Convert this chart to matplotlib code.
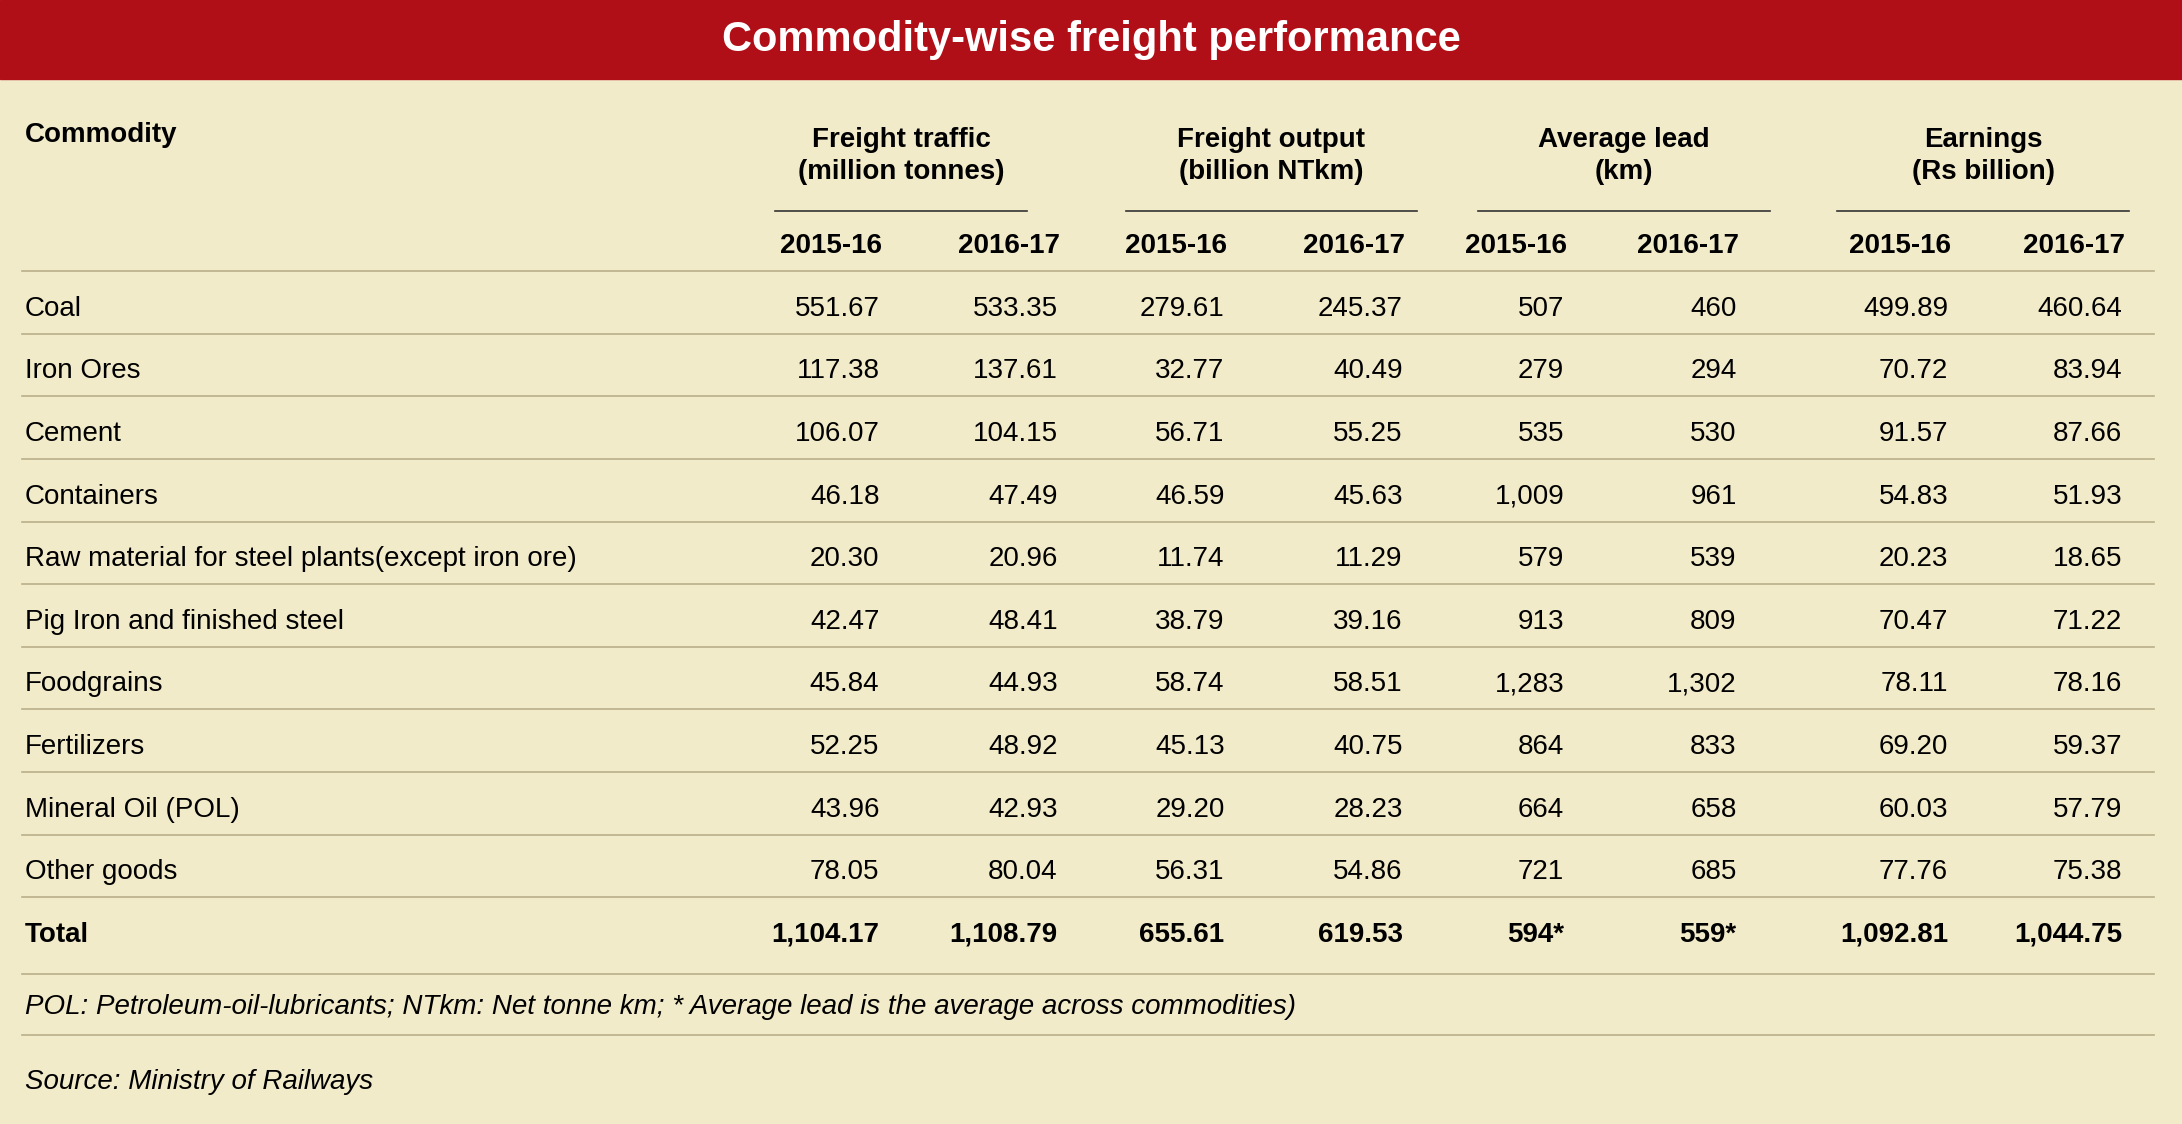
"""freight_table.py — commodity-wise freight performance table."""
import matplotlib.pyplot as plt
from matplotlib.lines import Line2D

plt.rcParams["font.family"] = ["Liberation Sans", "DejaVu Sans"]

commodities = ["Coal", "Iron Ores", "Cement", "Containers",
               "Raw material for steel plants(except iron ore)",
               "Pig Iron and finished steel", "Foodgrains", "Fertilizers",
               "Mineral Oil (POL)", "Other goods"]
traffic_1516 = ["551.67", "117.38", "106.07", "46.18", "20.30", "42.47", "45.84", "52.25", "43.96", "78.05"]
traffic_1617 = ["533.35", "137.61", "104.15", "47.49", "20.96", "48.41", "44.93", "48.92", "42.93", "80.04"]
output_1516 = ["279.61", "32.77", "56.71", "46.59", "11.74", "38.79", "58.74", "45.13", "29.20", "56.31"]
output_1617 = ["245.37", "40.49", "55.25", "45.63", "11.29", "39.16", "58.51", "40.75", "28.23", "54.86"]
lead_1516 = ["507", "279", "535", "1,009", "579", "913", "1,283", "864", "664", "721"]
lead_1617 = ["460", "294", "530", "961", "539", "809", "1,302", "833", "658", "685"]
earn_1516 = ["499.89", "70.72", "91.57", "54.83", "20.23", "70.47", "78.11", "69.20", "60.03", "77.76"]
earn_1617 = ["460.64", "83.94", "87.66", "51.93", "18.65", "71.22", "78.16", "59.37", "57.79", "75.38"]
totals = ["1,104.17", "1,108.79", "655.61", "619.53", "594*", "559*", "1,092.81", "1,044.75"]
groups = ["Freight traffic\n(million tonnes)", "Freight output\n(billion NTkm)",
          "Average lead\n(km)", "Earnings\n(Rs billion)"]
years = ["2015-16", "2016-17"]

W, H = 1568.0, 808.0  # layout grid in reference pixels
RED, BG, LINE = "#B10F18", "#F2EBC9", "#B9B08A"


def fx(x):
    return x / W


def fy(y):
    return 1 - y / H


def hline(fig, y, x0=16, x1=1548, color=LINE, lw=1.2):
    fig.add_artist(Line2D([fx(x0), fx(x1)], [fy(y), fy(y)], color=color, lw=lw))


fig = plt.figure(figsize=(21.82, 11.24), dpi=100, facecolor=BG)
fig.add_artist(plt.Rectangle((0, fy(57)), 1, 57 / H, color=RED, transform=fig.transFigure))
fig.text(0.5, fy(29), "Commodity-wise freight performance", color="white",
         fontsize=30, fontweight="bold", ha="center", va="center")

fs = 20
col_right = [632, 760, 880, 1008, 1124, 1248, 1400, 1525]
group_span = [(557, 738), (809, 1018), (1062, 1272), (1320, 1530)]

fig.text(fx(18), fy(97), "Commodity", fontsize=fs, fontweight="bold", va="center")
for (a, b), g in zip(group_span, groups):
    fig.text(fx((a + b) / 2), fy(112), g, fontsize=fs, fontweight="bold",
             ha="center", va="center", linespacing=1.3)
    hline(fig, 152, a, b, color="#333333", lw=1.2)
for i, r in enumerate(col_right):
    fig.text(fx(r + 2), fy(177), years[i % 2], fontsize=fs, fontweight="bold",
             ha="right", va="center")
hline(fig, 195)

columns = [traffic_1516, traffic_1617, output_1516, output_1617,
           lead_1516, lead_1617, earn_1516, earn_1617]
for k, name in enumerate(commodities):
    y = 222 + 45 * k
    fig.text(fx(18), fy(y), name, fontsize=fs, va="center")
    for r, col in zip(col_right, columns):
        fig.text(fx(r), fy(y), col[k], fontsize=fs, ha="right", va="center")
    hline(fig, y + 18)

y = 222 + 45 * len(commodities)
fig.text(fx(18), fy(y), "Total", fontsize=fs, fontweight="bold", va="center")
for r, t in zip(col_right, totals):
    fig.text(fx(r), fy(y), t, fontsize=fs, fontweight="bold", ha="right", va="center")
hline(fig, 700)

fig.text(fx(18), fy(724), "POL: Petroleum-oil-lubricants; NTkm: Net tonne km; "
         "* Average lead is the average across commodities)",
         fontsize=fs, style="italic", va="center")
hline(fig, 744)
fig.text(fx(18), fy(778), "Source: Ministry of Railways", fontsize=fs,
         style="italic", va="center")

plt.savefig("out.png", dpi=100, facecolor=BG)
plt.close()
